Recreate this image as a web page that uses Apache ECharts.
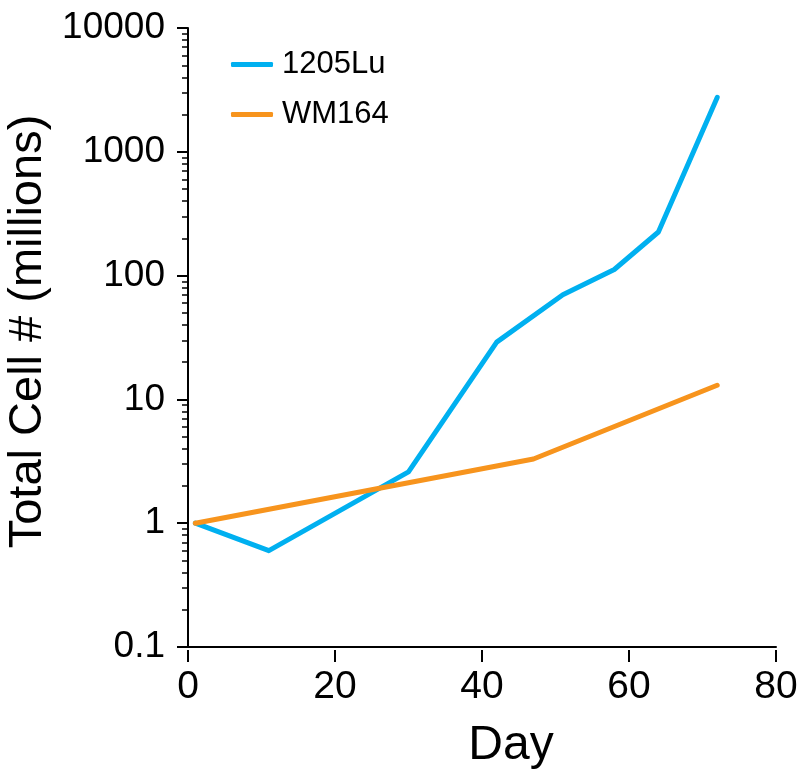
<!DOCTYPE html>
<html>
<head>
<meta charset="utf-8">
<script src="https://cdn.jsdelivr.net/npm/echarts@6/dist/echarts.min.js"></script>
<style>
  html, body { margin: 0; padding: 0; background: #fff; }
  #chart { width: 804px; height: 778px; }
</style>
</head>
<body>
<div id="chart"></div>
<script>
// data
var seriesNames = ["1205Lu", "WM164"];
var days1205Lu = [1, 11, 30, 42, 51, 58, 64, 72];
var cells1205Lu = [1, 0.6, 2.6, 29, 70, 112, 225, 2750];
var daysWM164 = [1, 47, 72];
var cellsWM164 = [1, 3.3, 13];
var xTicks = [0, 20, 40, 60, 80];
var yTicks = [0.1, 1, 10, 100, 1000, 10000];
// log minor ticks 2..9 in every decade
var yMinor = [];
yTicks.slice(0, -1).forEach(function (d) {
  for (var k = 2; k <= 9; k++) yMinor.push(+(d * k).toPrecision(3));
});

var font = "Liberation Sans, Arial, sans-serif";
var chart = echarts.init(document.getElementById("chart"));

function pairs(xs, ys) {
  return xs.map(function (x, i) { return [x, ys[i]]; });
}

chart.setOption({
  animation: false,
  legend: {
    orient: "vertical",
    left: 226,
    top: 43,
    itemWidth: 42,
    itemHeight: 5,
    itemGap: 17,
    icon: "roundRect",
    textStyle: { fontFamily: font, fontSize: 31, lineHeight: 33, color: "#000", padding: [0, 0, 0, 4] },
    data: seriesNames
  },
  grid: { left: 188, right: 28, top: 28, bottom: 131, containLabel: false, outerBoundsMode: "none" },
  xAxis: [{
    type: "value",
    min: 0, max: 80, interval: 20,
    axisLine: { show: true, lineStyle: { color: "#000", width: 2 } },
    axisTick: { show: false },
    axisLabel: { show: false },
    splitLine: { show: false }
  }, {
    type: "value",
    position: "bottom",
    offset: 3,
    min: 0, max: 80, interval: 20,
    axisLine: { show: false },
    axisTick: { show: true, length: 12, lineStyle: { color: "#000", width: 2 } },
    axisLabel: {
      fontFamily: font, fontSize: 39, color: "#000", margin: 18,
      customValues: xTicks
    },
    name: "Day",
    nameLocation: "middle",
    nameGap: 72,
    nameTextStyle: { fontFamily: font, fontSize: 48, color: "#000", padding: [0, 0, 0, 58] },
    splitLine: { show: false }
  }],
  yAxis: [{
    type: "log",
    logBase: 10,
    min: 0.1, max: 10000,
    axisLine: { show: true, lineStyle: { color: "#000", width: 2 } },
    axisTick: { show: true, length: 11, lineStyle: { color: "#000", width: 2 } },
    axisLabel: {
      fontFamily: font, fontSize: 37, color: "#000", margin: 23,
      formatter: function (v) { return String(v); }
    },
    name: "Total Cell # (millions)",
    nameLocation: "middle",
    nameGap: 123,
    nameTextStyle: { fontFamily: font, fontSize: 47, color: "#000", padding: [0, 0, 0, 12] },
    splitLine: { show: false }
  }, {
    type: "log",
    logBase: 10,
    position: "left",
    min: 0.1, max: 10000,
    axisLine: { show: false },
    axisTick: { show: true, length: 6, lineStyle: { color: "#000", width: 1.5 }, customValues: yMinor },
    axisLabel: { show: false },
    splitLine: { show: false }
  }],
  series: [{
    name: seriesNames[0],
    type: "line",
    xAxisIndex: 0, yAxisIndex: 0,
    data: pairs(days1205Lu, cells1205Lu),
    showSymbol: false,
    color: "#00B0F0",
    lineStyle: { width: 5, cap: "round", join: "round" }
  }, {
    name: seriesNames[1],
    type: "line",
    xAxisIndex: 0, yAxisIndex: 0,
    data: pairs(daysWM164, cellsWM164),
    showSymbol: false,
    color: "#F7941D",
    lineStyle: { width: 5, cap: "round", join: "round" }
  }]
});
</script>
</body>
</html>
